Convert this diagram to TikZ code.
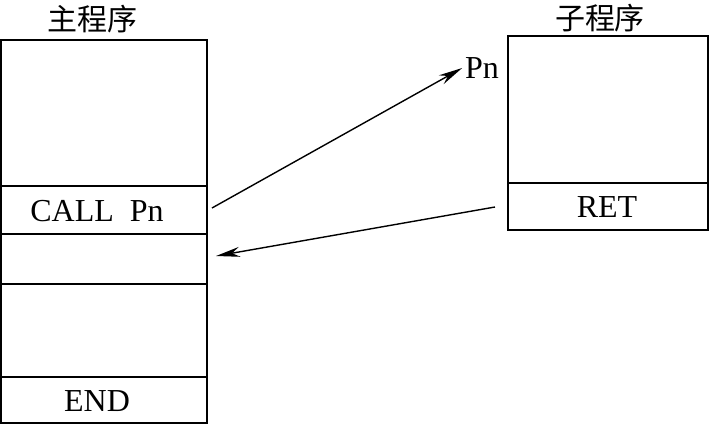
\documentclass[tikz,border=0pt]{standalone}
\usepackage{fontspec}
\setmainfont{Liberation Serif}
\newfontfamily\cjk{Noto Sans CJK SC}
\usetikzlibrary{arrows.meta}
\begin{document}
\begin{tikzpicture}[x=0.5pt, y=-0.5pt, line width=0.9pt,
    every node/.style={font=\fontsize{16}{18}\selectfont, inner sep=1pt},
    title/.style={font=\cjk\fontsize{15}{18}\selectfont},
    link/.style={line width=0.7pt, -{Stealth[length=12pt, width=5pt]}}]
        \useasboundingbox (0,0) rectangle (709,424);
        % main program
        \coordinate (m1) at (1,40);
        \coordinate (m2) at (207,423);
        \draw (m1) rectangle (m2);
        \draw (1,186) -- (207,186);
        \draw (1,234) -- (207,234);
        \draw (1,284) -- (207,284);
        \draw (1,377) -- (207,377);
        \node[title] (mtitle) at (92,19) {主程序};
        \node (call) at (97,211) {CALL\ \ Pn};
        \node (end) at (97,401) {END};
        % subroutine
        \coordinate (s1) at (508,36);
        \coordinate (s2) at (708,230);
        \draw (s1) rectangle (s2);
        \draw (508,183) -- (708,183);
        \node[title] (stitle) at (600,18) {子程序};
        \node (ret) at (607,207) {RET};
        \node (pn) at (482,68) {Pn};
        % jumps
        \coordinate (go) at (212,208);
        \coordinate (back) at (495,207);
        \coordinate (home) at (216,256);
        \draw[link] (go) -- (pn.west);
        \draw[link] (back) -- (home);
    \end{tikzpicture}
\end{document}
